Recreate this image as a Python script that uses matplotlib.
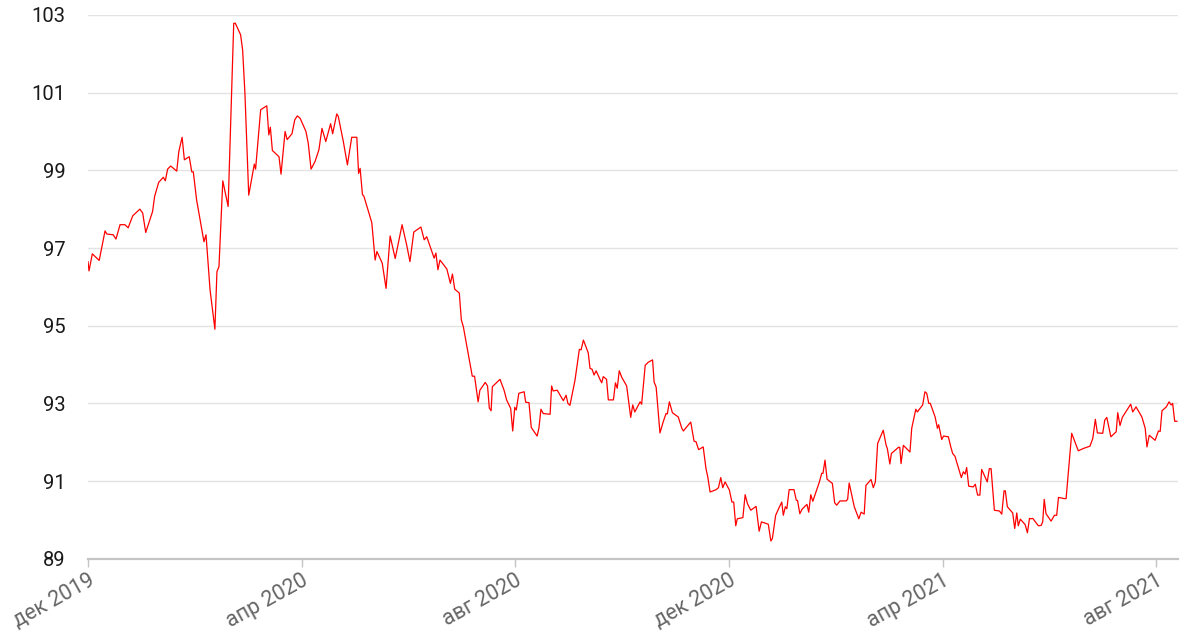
import matplotlib
matplotlib.use("Agg")
import matplotlib.pyplot as plt

# Trading-day position (index from first point) and index value
pos = [0.0, 0.4, 1.7, 4.4, 6.7, 7.4, 9.9, 11.0, 12.6, 14.5, 15.8, 17.6, 20.4, 21.5, 22.7,
       25.4, 26.2, 27.8, 29.6, 30.4, 31.3, 32.5, 34.9, 35.7, 37.0, 37.9, 39.8, 40.8, 41.4,
       42.7, 45.6, 46.4, 48.0, 49.9, 50.7, 51.5, 53.0, 55.1, 57.3, 57.9, 60.0, 60.8, 61.7,
       63.2, 65.4, 65.9, 67.9, 70.3, 71.1, 71.7, 72.5, 75.1, 75.9, 77.5, 78.3, 80.2, 81.3,
       82.3, 83.4, 85.7, 86.6, 87.7, 89.3, 90.8, 92.0, 93.5, 95.4, 96.2, 97.8, 98.4, 100.4,
       102.0, 103.7, 105.7, 106.4, 107.0, 107.9, 108.5, 111.6, 112.9, 113.6, 115.7, 117.2,
       118.8, 120.8, 123.5, 125.3, 126.6, 128.1, 130.9, 132.2, 133.2, 136.1, 136.8, 137.6,
       138.4, 141.1, 142.5, 143.3, 144.2, 146.0, 146.8, 147.6, 151.1, 152.0, 153.4, 154.1,
       156.2, 157.1, 157.8, 158.5, 159.0, 162.0, 163.6, 164.6, 166.2, 167.0, 167.8, 168.4,
       169.4, 171.5, 172.1, 173.4, 174.3, 176.6, 177.3, 178.1, 179.0, 181.7, 182.3, 182.9,
       184.5, 186.9, 188.0, 188.7, 189.5, 191.5, 193.2, 193.9, 194.8, 196.7, 197.4, 198.2,
       199.0, 199.8, 201.3, 202.0, 202.6, 203.9, 204.6, 206.6, 207.4, 208.1, 208.9, 209.9,
       211.8, 213.4, 214.2, 215.0, 217.1, 217.7, 219.1, 220.3, 222.0, 222.6, 223.4, 224.9,
       226.2, 227.3, 227.8, 228.6, 229.8, 232.1, 233.5, 234.1, 237.0, 238.3, 239.1, 240.1,
       241.9, 243.0, 243.7, 244.6, 247.0, 247.9, 248.8, 249.6, 250.5, 252.2, 253.2, 253.9,
       254.7, 255.3, 257.5, 258.4, 259.3, 260.6, 262.7, 263.9, 264.8, 267.5, 268.5, 269.1,
       270.4, 271.9, 272.8, 273.4, 274.2, 274.8, 275.7, 277.6, 278.5, 279.0, 279.9, 280.8,
       282.7, 283.4, 284.2, 285.0, 287.6, 288.5, 289.0, 289.8, 290.6, 292.7, 293.6, 294.4,
       295.7, 298.1, 298.7, 299.3, 300.4, 301.3, 303.1, 304.0, 305.2, 305.9, 307.9, 308.8,
       309.6, 310.5, 312.7, 313.8, 314.3, 315.3, 315.9, 318.7, 319.2, 319.7, 320.6, 323.2,
       323.9, 325.5, 326.1, 328.2, 329.1, 329.8, 330.6, 331.2, 333.1, 334.0, 334.5, 335.7,
       336.4, 338.3, 339.3, 340.0, 340.9, 343.4, 344.2, 344.9, 345.5, 346.3, 348.1, 348.9,
       349.8, 350.7, 351.4, 353.6, 354.4, 355.1, 356.4, 358.4, 359.3, 360.2, 360.7, 361.5,
       363.6, 364.4, 365.2, 365.8, 366.6, 368.5, 369.4, 370.2, 370.8, 371.5, 373.7, 374.8,
       375.4, 376.0, 376.7, 378.7, 380.0, 380.9, 381.6, 383.8, 384.6, 386.8, 389.4, 391.4,
       394.0, 395.1, 396.1, 396.9, 399.0, 399.8, 400.6, 402.2, 404.3, 404.9, 405.8, 406.7,
       410.0, 410.8, 412.1, 414.4, 415.7, 416.4, 417.3, 419.6, 420.9, 421.6, 422.3, 424.0,
       425.1, 425.9, 426.5, 427.3, 428.2]

values = [96.65, 96.41, 96.85, 96.68, 97.44, 97.36, 97.34, 97.23, 97.60, 97.60, 97.52, 97.83,
          98.00, 97.90, 97.40, 97.94, 98.33, 98.69, 98.82, 98.73, 99.03, 99.11, 98.98, 99.48,
          99.85, 99.27, 99.35, 98.96, 98.96, 98.24, 97.16, 97.34, 95.92, 94.91, 96.39, 96.52,
          98.73, 98.07, 102.78, 102.79, 102.49, 102.10, 100.99, 98.36, 99.16, 99.03, 100.56,
          100.66, 99.91, 100.11, 99.51, 99.35, 98.90, 100.00, 99.79, 99.94, 100.30, 100.40,
          100.34, 100.00, 99.70, 99.03, 99.23, 99.53, 100.08, 99.74, 100.20, 99.94, 100.45,
          100.39, 99.74, 99.14, 99.85, 99.85, 98.92, 99.05, 98.38, 98.33, 97.65, 96.69, 96.91,
          96.61, 95.96, 97.31, 96.73, 97.60, 97.08, 96.65, 97.41, 97.54, 97.21, 97.29, 96.74,
          96.87, 96.44, 96.69, 96.46, 96.09, 96.33, 95.94, 95.84, 95.15, 94.97, 93.70, 93.70,
          93.04, 93.34, 93.54, 93.45, 92.88, 92.81, 93.43, 93.62, 93.34, 93.09, 92.87, 92.29,
          92.90, 92.83, 93.26, 93.30, 93.03, 93.02, 92.38, 92.16, 92.36, 92.85, 92.74, 92.72,
          93.45, 93.32, 93.34, 93.07, 93.21, 93.00, 92.95, 93.60, 94.39, 94.38, 94.63, 94.30,
          93.90, 93.88, 93.73, 93.84, 93.62, 93.53, 93.69, 93.62, 93.09, 93.09, 93.53, 93.39,
          93.84, 93.67, 93.45, 92.64, 92.96, 92.78, 93.04, 92.98, 93.98, 94.06, 94.12, 93.55,
          93.42, 92.24, 92.53, 92.74, 92.73, 93.04, 92.76, 92.65, 92.36, 92.29, 92.52, 92.03,
          92.01, 91.81, 91.88, 91.32, 91.11, 90.72, 90.78, 90.83, 91.09, 90.83, 90.98, 90.77,
          90.46, 90.46, 89.85, 90.03, 90.06, 90.65, 90.42, 90.25, 90.35, 89.71, 89.95, 89.89,
          89.46, 89.52, 90.12, 90.34, 90.46, 90.12, 90.34, 90.29, 90.78, 90.78, 90.51, 90.50,
          90.16, 90.28, 90.40, 90.20, 90.65, 90.48, 90.98, 91.20, 91.20, 91.54, 91.05, 90.94,
          90.44, 90.38, 90.49, 90.49, 90.53, 90.95, 90.61, 90.34, 90.03, 90.20, 90.15, 90.89,
          91.04, 90.83, 90.98, 91.97, 92.31, 91.93, 91.84, 91.44, 91.71, 91.87, 91.87, 91.45,
          91.92, 91.75, 92.36, 92.85, 92.78, 92.96, 93.30, 93.26, 93.00, 93.00, 92.65, 92.36,
          92.45, 92.07, 92.16, 92.14, 91.87, 91.71, 91.64, 91.09, 91.24, 91.18, 91.35, 90.87,
          90.85, 90.92, 90.64, 90.64, 91.30, 90.98, 91.32, 91.32, 90.25, 90.23, 90.15, 90.75,
          90.75, 90.34, 90.18, 89.78, 90.18, 89.85, 90.02, 89.88, 89.67, 90.04, 90.03, 90.04,
          89.85, 89.86, 89.95, 90.53, 90.16, 89.97, 90.12, 90.12, 90.58, 90.55, 90.55, 92.23,
          91.78, 91.84, 91.90, 92.10, 92.59, 92.24, 92.23, 92.57, 92.64, 92.14, 92.27, 92.76,
          92.43, 92.64, 92.98, 92.78, 92.91, 92.65, 92.36, 91.88, 92.18, 92.05, 92.29, 92.28,
          92.81, 92.91, 93.04, 92.96, 93.00, 92.54, 92.54]

tick_pos = [0, 84, 168, 252, 336, 420]
tick_labels = ["дек 2019", "апр 2020", "авг 2020", "дек 2020", "апр 2021", "авг 2021"]
y_ticks = [89, 91, 93, 95, 97, 99, 101, 103]

plt.rcParams['font.family'] = ['Roboto', 'DejaVu Sans']

fig = plt.figure(figsize=(12, 6.36), dpi=100)
ax = fig.add_axes([88 / 1200, 1 - 558.8 / 636, (1178 - 88) / 1200, (558.8 - 14.9) / 636])

ax.plot(pos, values, color='#ff0000', linewidth=0.9, zorder=3)

ax.set_xlim(0, 428.6)
ax.set_ylim(89, 103)
ax.set_yticks(y_ticks)
ax.set_yticklabels([str(t) for t in y_ticks], fontsize=14.5, color='#1a1a1a')
ax.set_xticks(tick_pos)
ax.set_xticklabels(tick_labels, fontsize=15.5, color='#666666', rotation=29,
                   ha='right', va='top', rotation_mode='anchor')

ax.grid(axis='y', color='#e3e3e3', linewidth=1.0, zorder=0)
for s in ['left', 'right', 'top']:
    ax.spines[s].set_visible(False)
ax.spines['bottom'].set_color('#c4c4c4')
ax.spines['bottom'].set_linewidth(1.6)
ax.tick_params(axis='y', length=0, pad=16)
ax.tick_params(axis='x', length=6, width=1, color='#c4c4c4', pad=2)

fig.savefig('out.png', dpi=100)
